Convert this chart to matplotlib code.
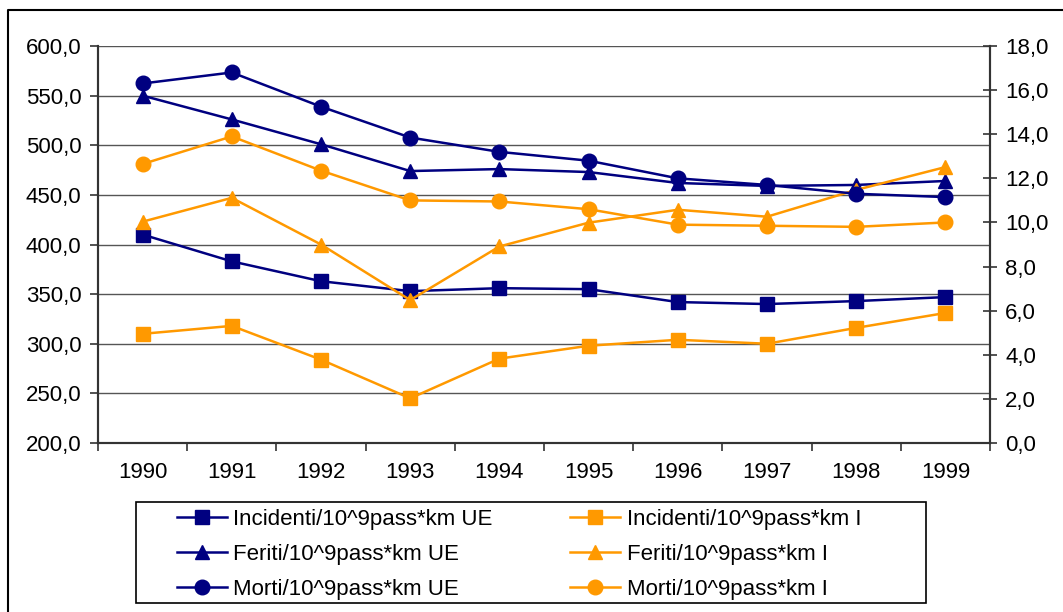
import numpy as np
import matplotlib
matplotlib.use("Agg")
import matplotlib.pyplot as plt
from matplotlib.lines import Line2D
from matplotlib.patches import Rectangle
from matplotlib.ticker import FuncFormatter

plt.rcParams["font.family"] = ["Liberation Sans", "DejaVu Sans"]
plt.rcParams["font.size"] = 16

# dati
anni = ["1990", "1991", "1992", "1993", "1994", "1995", "1996", "1997", "1998", "1999"]
incidenti_ue = [410, 383, 363, 353, 356, 355, 342, 340, 343, 347]
incidenti_i = [310, 318, 284, 245, 285, 298, 304, 300, 316, 331]
feriti_ue = [550, 526, 501, 474, 476, 473, 462, 459, 460, 464]
feriti_i = [423, 447, 400, 344, 398, 422, 435, 428, 455, 478]
# asse destro
morti_ue = [16.3, 16.8, 15.25, 13.85, 13.2, 12.8, 12.0, 11.7, 11.3, 11.15]
morti_i = [12.65, 13.9, 12.35, 11.0, 10.95, 10.6, 9.9, 9.85, 9.8, 10.0]

BLU = "#000080"
ARANCIO = "#FF9900"
W, H = 1063, 612

fig = plt.figure(figsize=(W / 100, H / 100), dpi=100)
ax = fig.add_axes([98 / W, 1 - 443 / H, (990 - 98) / W, (443 - 46) / H])
ax2 = ax.twinx()

x = np.arange(len(anni))
lw = 1.8
ms_q, ms_t, ms_c = 9.5, 10, 10.5

h1, = ax.plot(x, incidenti_ue, color=BLU, lw=lw, marker="s", ms=ms_q, label="Incidenti/10^9pass*km UE")
h2, = ax.plot(x, incidenti_i, color=ARANCIO, lw=lw, marker="s", ms=ms_q, label="Incidenti/10^9pass*km I")
h3, = ax.plot(x, feriti_ue, color=BLU, lw=lw, marker="^", ms=ms_t, label="Feriti/10^9pass*km UE")
h4, = ax.plot(x, feriti_i, color=ARANCIO, lw=lw, marker="^", ms=ms_t, label="Feriti/10^9pass*km I")
h5, = ax2.plot(x, morti_ue, color=BLU, lw=lw, marker="o", ms=ms_c, label="Morti/10^9pass*km UE")
h6, = ax2.plot(x, morti_i, color=ARANCIO, lw=lw, marker="o", ms=ms_c, label="Morti/10^9pass*km I")

# assi
ax.set_xlim(-0.5, len(anni) - 0.5)
ax.set_ylim(200, 600)
ax2.set_ylim(0, 18)
ax.set_yticks(np.arange(200, 601, 50))
ax2.set_yticks(np.arange(0, 19, 2))
virgola = FuncFormatter(lambda v, p: f"{v:.1f}".replace(".", ","))
ax.yaxis.set_major_formatter(virgola)
ax2.yaxis.set_major_formatter(virgola)

ax.set_xticks(np.arange(-0.5, len(anni), 1))
ax.set_xticklabels([])
ax.set_xticks(x, minor=True)
ax.set_xticklabels(anni, minor=True)
ax.tick_params(axis="x", which="major", direction="out", length=6, width=1.2, color="#333333")
ax.tick_params(axis="x", which="minor", length=0, pad=14)
ax.tick_params(axis="y", direction="out", length=6, width=1.2, color="#333333", pad=6)
ax2.tick_params(axis="y", direction="inout", length=10, width=1.2, color="#333333", pad=6)

ax.grid(axis="y", color="#555555", lw=1.0)
ax.set_axisbelow(True)
for a in (ax, ax2):
    a.spines["top"].set_visible(False)
    for s in ("left", "right", "bottom"):
        a.spines[s].set_color("#333333")
        a.spines[s].set_linewidth(1.5)
    a.patch.set_alpha(0)

# legenda
fig.add_artist(Rectangle((136 / W, 1 - 603 / H), (926 - 136) / W, (603 - 502) / H,
                         transform=fig.transFigure, fill=False, ec="black", lw=1.2))
fig.legend(handles=[h1, h3, h5, h2, h4, h6], ncol=2, frameon=False,
           loc="upper left", bbox_to_anchor=(177 / W, 1 - 509 / H),
           borderpad=0, borderaxespad=0, handlelength=2.25, handletextpad=0.28,
           columnspacing=3.5, labelspacing=0.62)

# cornice esterna
fig.add_artist(Line2D([8 / W, 8 / W, 1.0], [0.0, 1 - 10 / H, 1 - 10 / H],
                      transform=fig.transFigure, color="black", lw=1.5))

fig.savefig("out.png", dpi=100)
